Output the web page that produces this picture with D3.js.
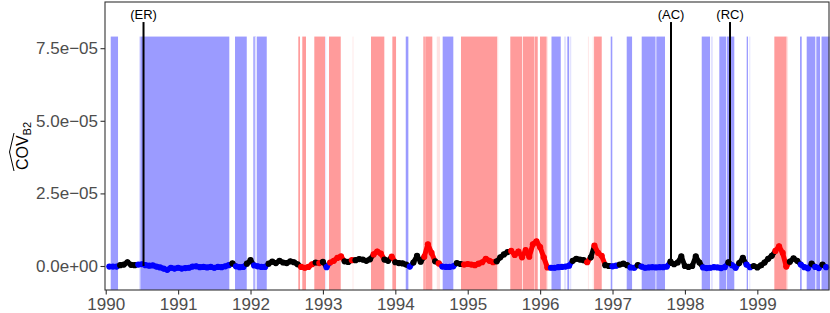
<!DOCTYPE html>
<html>
<head>
<meta charset="utf-8">
<script src="https://cdn.jsdelivr.net/npm/d3@7"></script>
<style>
  body { margin: 0; background: #fff; }
  svg { display: block; font-family: "Liberation Sans", Arial, sans-serif; }
</style>
</head>
<body>
<svg id="chart" width="830" height="313"></svg>
<script>
// series: one estimate every 0.05 year starting at 1990.05, values in units of 1e-6
var seriesStart = 1990.05;
var seriesStep = 0.05;
var covValues = [
  -0.2, -0.2, -0.2, 0.3, 0.5, 1.3, 0.4, 0.3, 0.5, 0.6,
  0.3, 0.1, 0.2, -0.2, -0.5, -0.9, -1.3, -0.6, -0.9, -0.6,
  -0.9, -0.7, -0.6, -0.2, -0.1, -0.4, -0.3, -0.5, -0.3, -0.6,
  -0.3, -0.4, -0.1, 0.3, 0.9, -0.1, -0.4, -0.3, 0.8, 2.0,
  0.2, -0.1, -0.3, -0.3, 0.8, 1.5, 1.0, 1.8, 1.2, 1.0,
  1.6, 1.3, 0.6, -0.3, -0.6, -0.3, 0.6, 1.2, 1.0, 1.4,
  -0.4, 1.2, 1.8, 2.8, 3.3, 1.6, 1.4, 2.0, 2.0, 2.4,
  2.2, 1.8, 2.3, 4.0, 5.0, 4.3, 2.2, 1.8, 3.2, 1.3,
  1.0, 0.9, 0.5, -0.2, 1.2, 3.5, 1.5, 3.2, 7.5, 4.5,
  1.6, 0.9, -0.2, -0.3, -0.3, -0.1, 1.0, 0.7, 0.5, 0.7,
  0.5, 0.3, 0.8, 1.3, 2.5, 1.8, 1.3, 1.6, 3.0, 4.0,
  4.8, 5.2, 3.8, 5.0, 3.0, 5.5, 3.2, 7.5, 8.5, 6.5,
  3.0, -0.5, -0.6, -0.6, -0.4, -0.3, -0.2, 0.1, 1.8, 2.5,
  2.2, 2.0, 1.3, 3.0, 7.0, 4.5, 3.5, 0.3, 0.0, -0.1,
  0.1, 0.5, 0.8, 0.3, -0.5, -0.6, 0.3, -0.2, -0.6, -0.5,
  -0.4, -0.5, -0.4, -0.4, -0.2, 1.5, 0.6, 1.2, 3.3, 0.0,
  -0.3, 0.0, 3.3, 1.2, -0.5, -0.7, -0.6, -0.4, -0.5, -0.7,
  -0.4, 1.3, 0.3, -0.6, 1.0, 2.8, 0.5, -0.4, 0.0, -0.5,
  0.2, 1.2, 2.5, 3.5, 5.2, 6.8, 4.5, -0.2, 1.5, 2.6,
  1.8, 0.5, -0.4, -0.8, 0.8, -0.3, -0.7, 0.5, -0.4
];
// regime of each estimate: k = none, b = low, r = high
var covRegime = (
  "bbbkkkkkbb" + "bbbbbbbbbb" + "bbbbbbbbbb" + "bbbbkbbbkk" +
  "bbbbkkkkkk" + "kkkrrrrkrk" + "brrrrkkrkk" + "kkkrrrkkrk" +
  "kkkbkkkrrr" + "krbbbbkkrr" + "rrrrrrrkkk" + "krrrrrrrrr" +
  "rrbbbbbbkk" + "kkrkrrrkkb" + "bkkkbbkbbb" + "bbbbbkkkkk" +
  "kkkkbbbbbb" + "bkbbkkbbkk" + "kkkkrrrrkk" + "kbbbkbbkb"
).split("");

// shaded regime periods (years)
var bandStart = [
  1990.069, 1990.460, 1990.478, 1991.786, 1992.039, 1992.058, 1992.087,
  1992.660, 1992.715, 1992.881, 1993.033, 1993.084, 1993.410, 1993.664, 1993.959,
  1994.144, 1994.387, 1994.413, 1994.572, 1994.654, 1994.907, 1995.410, 1995.588,
  1995.760, 1995.922, 1995.998, 1996.093, 1996.157, 1996.331, 1996.376, 1996.406,
  1996.660, 1996.727, 1996.745, 1996.975, 1997.196, 1997.403, 1997.605, 1998.232,
  1998.360, 1998.475, 1998.577, 1998.853, 1998.889, 1999.235, 1999.406, 1999.590,
  1999.682, 1999.815, 1999.887
];
var bandEnd = [
  1990.170, 1990.474, 1991.707, 1991.948, 1992.072, 1992.080, 1992.224,
  1992.683, 1992.766, 1993.030, 1993.045, 1993.246, 1993.420, 1993.848, 1994.010,
  1994.180, 1994.408, 1994.511, 1994.618, 1994.801, 1995.409, 1995.422, 1995.750,
  1995.916, 1995.967, 1996.091, 1996.106, 1996.285, 1996.359, 1996.399, 1996.430,
  1996.672, 1996.740, 1996.851, 1996.997, 1997.270, 1997.594, 1997.725, 1998.347,
  1998.385, 1998.567, 1998.682, 1998.871, 1998.903, 1999.406, 1999.425, 1999.613,
  1999.801, 1999.866, 1999.997
];
var bandType = [
  "b", "bl", "b", "b", "b", "bl", "b",
  "r", "r", "r", "bl", "r", "rl", "r", "r",
  "b", "r", "r", "rl", "b", "r", "rl", "r",
  "r", "r", "r", "rl", "b", "bl", "b", "bl",
  "rl", "rl", "r", "b", "b", "b", "b", "b",
  "bl", "b", "b", "b", "bl", "r", "rl", "b",
  "b", "b", "b"
];
var bandTop = 7.9e-5;

// event markers
var eventNames = ["(ER)", "(AC)", "(RC)"];
var eventYears = [1990.522, 1997.808, 1998.623];
var eventTop = 8.4e-5;

var xTicks = [1990, 1991, 1992, 1993, 1994, 1995, 1996, 1997, 1998, 1999];
var yTicks = [0, 2.5e-5, 5e-5, 7.5e-5];
var yTickLabels = ["0.0e+00", "2.5e\u221205", "5.0e\u221205", "7.5e\u221205"];

var svg = d3.select("#chart");
var x = d3.scaleLinear().domain([1989.99, 1999.99]).range([105, 829]);
var y = d3.scaleLinear().domain([-8.26e-6, 9.09e-5]).range([290, 2]);

var bandFill = { b: "#9b9bff", bl: "#e3e3ff", r: "#ff9b9b", rl: "#ffe3e3" };
var dotFill = { k: "#000000", b: "#0000ff", r: "#ff0000" };

var bands = bandStart.map(function (s, i) { return { s: s, e: bandEnd[i], t: bandType[i] }; });
svg.append("g").selectAll("rect").data(bands).enter().append("rect")
    .attr("x", function (d) { return x(d.s); })
    .attr("width", function (d) { return Math.max(0.8, x(d.e) - x(d.s)); })
    .attr("y", y(bandTop))
    .attr("height", y.range()[0] - y(bandTop))
    .attr("fill", function (d) { return bandFill[d.t]; });

var pts = covValues.map(function (v, i) {
    return { t: seriesStart + i * seriesStep, v: v * 1e-6, c: covRegime[i] };
});

// thick trace joining consecutive estimates, then the estimates themselves
var segs = d3.pairs(pts);
svg.append("g").selectAll("line").data(segs).enter().append("line")
    .attr("x1", function (d) { return x(d[0].t); })
    .attr("y1", function (d) { return y(d[0].v); })
    .attr("x2", function (d) { return x(d[1].t); })
    .attr("y2", function (d) { return y(d[1].v); })
    .attr("stroke", function (d) { return dotFill[d[0].c]; })
    .attr("stroke-width", 5)
    .attr("stroke-linecap", "round");
svg.append("g").selectAll("circle").data(pts).enter().append("circle")
    .attr("cx", function (d) { return x(d.t); })
    .attr("cy", function (d) { return y(d.v); })
    .attr("r", 3.1)
    .attr("fill", function (d) { return dotFill[d.c]; });

var ev = svg.append("g");
eventYears.forEach(function (t, i) {
    ev.append("line")
        .attr("x1", x(t)).attr("x2", x(t))
        .attr("y1", y(0)).attr("y2", y(eventTop))
        .attr("stroke", "#000").attr("stroke-width", 2);
    ev.append("text")
        .attr("x", x(t)).attr("y", y(eventTop) - 3)
        .attr("text-anchor", "middle")
        .attr("font-size", 13)
        .text(eventNames[i]);
});

// panel border
svg.append("rect")
    .attr("x", 105).attr("y", 2).attr("width", 724).attr("height", 288)
    .attr("fill", "none").attr("stroke", "#333").attr("stroke-width", 1.1);

var xAxis = svg.append("g").attr("transform", "translate(0,290)")
    .call(d3.axisBottom(x).tickValues(xTicks).tickFormat(d3.format("d")).tickSize(4.5).tickPadding(3.5));
var yAxis = svg.append("g").attr("transform", "translate(105,0)")
    .call(d3.axisLeft(y).tickValues(yTicks).tickFormat(function (d, i) { return yTickLabels[i]; }).tickSize(4.5).tickPadding(2.5));
[xAxis, yAxis].forEach(function (a) {
    a.select(".domain").remove();
    a.selectAll("line").attr("stroke", "#333").attr("stroke-width", 1.1);
    a.selectAll("text").attr("fill", "#4d4d4d").attr("font-size", 17)
        .style("font-family", "'Liberation Sans', Arial, sans-serif");
});

// y title: widehat COV with subscript B2
var yt = svg.append("g").attr("transform", "translate(28,146) rotate(-90)");
var tt = yt.append("text").attr("text-anchor", "middle").attr("font-size", 16).attr("fill", "#000");
tt.append("tspan").text("COV");
tt.append("tspan").attr("font-size", 11).attr("dy", 3).text("B2");
yt.append("path")
    .attr("d", "M-25,-14 L-6,-18.5 L13,-14")
    .attr("fill", "none").attr("stroke", "#000").attr("stroke-width", 1);
</script>
</body>
</html>
